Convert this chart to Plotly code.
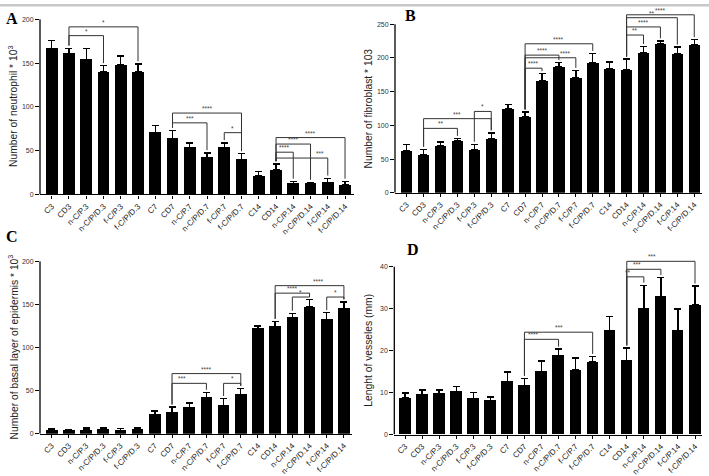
import plotly.graph_objects as go

# ---------------- data ----------------
categories = ["C3", "CD3", "n-C/P.3", "n-C/P/D.3", "f-C/P.3", "f-C/P/D.3",
              "C7", "CD7", "n-C/P.7", "n-C/P/D.7", "f-C/P.7", "f-C/P/D.7",
              "C14", "CD14", "n-C/P.14", "n-C/P/D.14", "f-C/P.14", "f-C/P/D.14"]

neutrophil_mean = [167, 161, 154, 140, 148, 140, 70.6, 64, 53.5, 42.4, 53.5, 40,
                   21, 28, 12.6, 12.6, 13.4, 10.8]
neutrophil_sem = [9, 6, 12.5, 7, 10, 9, 8.4, 9, 5.5, 5.2, 5.5, 6.5,
                  5, 7, 2.4, 1.2, 5.2, 4.2]

fibroblast_mean = [62.3, 57, 70.5, 76.7, 63.7, 80, 125, 113.4, 166.5, 186.8, 171, 193.5,
                   184.4, 182.4, 207.5, 221, 206.6, 219]
fibroblast_sem = [9.1, 7.7, 4.8, 3.9, 8.3, 9, 6, 6.6, 10.1, 6.2, 10.5, 13.1,
                  9.6, 16, 9.5, 4.4, 9.4, 8]

basal_mean = [4.5, 3.8, 4.5, 5.7, 4.2, 4.9, 22.6, 24.5, 30.6, 42.3, 32.8, 45.7,
              121.9, 124.5, 134.7, 147.2, 132.5, 145.3]
basal_sem = [1.9, 1.2, 2.3, 1.5, 2.2, 1.9, 3.8, 6.5, 5.2, 5.7, 8, 6.8,
             3.1, 5.7, 4.9, 8.3, 7.9, 7.5]

vessel_mean = [8.7, 9.5, 9.7, 10.25, 8.5, 8.15, 12.6, 11.6, 15.0, 18.9, 15.4, 17.3,
               24.8, 17.6, 30.0, 32.9, 24.85, 30.9]
vessel_sem = [1.2, 1.1, 0.9, 1.15, 1.5, 0.75, 2.3, 1.8, 2.55, 1.45, 2.85, 1.3,
              3.4, 3.06, 5.6, 4.5, 5.05, 4.5]

# significance brackets: (from index, to index, level, label, label position or None)
neutrophil_sig = [(1, 3, 181.4, "*", None), (1, 5, 191.4, "*", None),
                  (7, 9, 81.8, "***", None), (7, 11, 93, "****", None),
                  (10, 11, 70.6, "*", None), (13, 14, 48.3, "****", None),
                  (13, 15, 57.6, "****", None), (13, 17, 65, "****", None),
                  (13, 16, 41.6, "***", 15.55)]
fibroblast_sig = [(1, 3, 95.6, "**", None), (1, 5, 110, "***", None),
                  (4, 5, 120.7, "*", None), (7, 8, 184.8, "****", None),
                  (7, 9, 204.2, "****", None), (7, 10, 200.3, "****", 9.4),
                  (7, 11, 221, "****", None), (13, 14, 234, "**", None),
                  (13, 15, 246, "****", None), (13, 16, 259.7, "**", None),
                  (13, 17, 264, "****", None)]
basal_sig = [(7, 9, 58.5, "***", 7.6), (7, 11, 69.8, "****", None),
             (10, 11, 58.5, "*", None), (13, 17, 171.7, "****", 15.5),
             (13, 15, 163, "****", None), (14, 15, 158.5, "*", None),
             (16, 17, 158.5, "*", None)]
vessel_sig = [(7, 9, 22.7, "****", 7.55), (7, 11, 24.4, "***", None),
              (13, 14, 37.6, "**", 13.1), (13, 15, 39.4, "***", 13.6),
              (13, 17, 41.3, "***", 14.5)]

# ---------------- layout helpers ----------------
W, H = 709, 476


def fx(p):
    return p / W


def fy(p):
    return 1 - p / H


panels = [
    dict(letter="A", mean=neutrophil_mean, sem=neutrophil_sem, sig=neutrophil_sig,
         title="Number of neutrophil * 10<sup>3</sup>",
         xpx=(40, 354), ypx=(195, 15.7), xr=(-0.68, 17.52), yr=(0, 200), ymax=200, dtick=50,
         letter_px=(12, 15), title_px=13),
    dict(letter="B", mean=fibroblast_mean, sem=fibroblast_sem, sig=fibroblast_sig,
         title="Number of fibroblast * 103",
         xpx=(395, 701.7), ypx=(193.3, 6.9), xr=(-0.69, 17.44), yr=(0, 270), ymax=250, dtick=50,
         letter_px=(410, 12), title_px=369),
    dict(letter="C", mean=basal_mean, sem=basal_sem, sig=basal_sig,
         title="Number of basal layer of epidermis * 10<sup>3</sup>",
         xpx=(40, 352), ypx=(440, 263.3), xr=(-0.68, 17.47), yr=(0, 200), ymax=200, dtick=50,
         letter_px=(12, 238), title_px=13),
    dict(letter="D", mean=vessel_mean, sem=vessel_sem, sig=vessel_sig,
         title="Lenght of vesseles (mm)",
         xpx=(394.3, 702), ypx=(440.7, 260.4), xr=(-0.63, 17.41), yr=(0, 42), ymax=40, dtick=10,
         letter_px=(413, 251), title_px=369),
]

tick_x = list(range(len(categories)))
fig = go.Figure()
shapes = []
annotations = []
layout_axes = {}

for k, p in enumerate(panels):
    n = "" if k == 0 else str(k + 1)
    xa, ya = "x" + n, "y" + n
    fig.add_trace(go.Bar(
        x=tick_x, y=p["mean"], width=0.68, xaxis=xa, yaxis=ya,
        marker=dict(color="black", line=dict(width=0)),
        error_y=dict(type="data", array=p["sem"], arrayminus=[0] * len(p["sem"]),
                     symmetric=False, color="black", thickness=1.4, width=3.5),
        showlegend=False, hoverinfo="skip"))

    layout_axes["xaxis" + n] = dict(
        domain=[fx(p["xpx"][0]), fx(p["xpx"][1])], range=list(p["xr"]), anchor=ya,
        tickmode="array", tickvals=tick_x, ticktext=categories, tickangle=-45,
        tickfont=dict(family="Liberation Sans, Arial", size=8, color="#222"),
        showline=True, linecolor="black", linewidth=1.3, ticks="outside", ticklen=3,
        tickcolor="black", tickwidth=1, showgrid=False, zeroline=False, fixedrange=True)
    yt = list(range(0, p["ymax"] + 1, p["dtick"]))
    layout_axes["yaxis" + n] = dict(
        domain=[fy(p["ypx"][0]), fy(p["ypx"][1])], range=list(p["yr"]), anchor=xa,
        tickmode="array", tickvals=yt, ticktext=[str(v) for v in yt],
        tickfont=dict(family="Liberation Sans, Arial", size=7, color="#333"),
        showline=False, ticks="outside", ticklen=4, tickcolor="black", tickwidth=1.3,
        showgrid=False, zeroline=False, fixedrange=True)

    # y axis line (stops at the last tick)
    shapes.append(dict(type="line", xref=xa + " domain", yref=ya, x0=0, x1=0,
                       y0=0, y1=p["ymax"], line=dict(color="black", width=1.3)))

    # significance brackets
    gap = 0.015 * p["ymax"]
    tops = [m + s for m, s in zip(p["mean"], p["sem"])]
    for (i, j, lvl, lab, lx) in p["sig"]:
        path = (f"M {i},{tops[i] + gap} L {i},{lvl} L {j},{lvl} L {j},{tops[j] + gap}")
        shapes.append(dict(type="path", xref=xa, yref=ya, path=path,
                           line=dict(color="#333", width=1)))
        annotations.append(dict(
            xref=xa, yref=ya, x=(i + j) / 2 if lx is None else lx, y=lvl,
            text=lab, showarrow=False, yanchor="bottom", yshift=-1,
            font=dict(family="Liberation Sans, Arial", size=6.5, color="#444")))

    # panel letter
    annotations.append(dict(
        xref="paper", yref="paper", x=fx(p["letter_px"][0]), y=fy(p["letter_px"][1]),
        text="<b>" + p["letter"] + "</b>", showarrow=False, xanchor="center", yanchor="middle",
        font=dict(family="Liberation Serif, Times New Roman", size=16, color="black")))
    # y title, centred on the drawn part of the axis
    y0p = fy(p["ypx"][0])
    ytop = fy(p["ypx"][0] - (p["ypx"][0] - p["ypx"][1]) * p["ymax"] / p["yr"][1])
    annotations.append(dict(
        xref="paper", yref="paper", x=fx(p["title_px"]), y=(y0p + ytop) / 2,
        text=p["title"], textangle=-90, showarrow=False, xanchor="center", yanchor="middle",
        font=dict(family="Liberation Sans, Arial", size=10.3, color="#222")))

# light grey strip at top edge
shapes.append(dict(type="rect", xref="paper", yref="paper", x0=0, x1=1, y0=fy(2.5), y1=1,
                   fillcolor="#c8c8c8", line=dict(width=0), layer="below"))

fig.update_layout(
    width=W, height=H, margin=dict(l=0, r=0, t=0, b=0),
    paper_bgcolor="white", plot_bgcolor="white",
    shapes=shapes, annotations=annotations, bargap=0, **layout_axes)

fig.write_html("out.html", config={"displayModeBar": False},
               post_script="document.body.style.margin='0';document.body.style.overflow='hidden';")
